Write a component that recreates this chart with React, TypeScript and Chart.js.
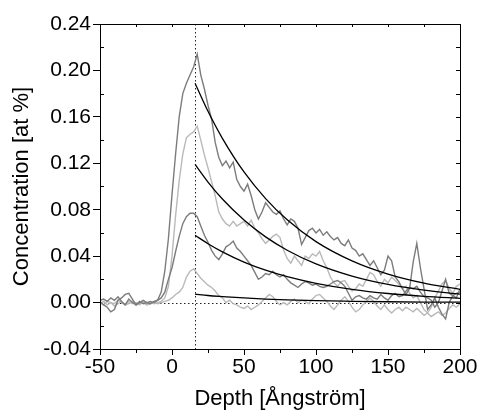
import React, { useEffect, useRef } from "react";
import { Chart, registerables } from "chart.js";

Chart.register(...registerables);

const depth: number[] = [];
for (let i = 0; i <= 100; i++) depth.push(-50 + 2.5 * i);

const seriesA = [
  0.002, 0.003, 0.001, 0.004, 0.002, 0.005, 0.001, -0.002, 0.003, 0.0, -0.002, 0.001, -0.001, 0.0, 0.001, 0.0,
  0.002, 0.009, 0.027, 0.055, 0.093, 0.128, 0.16, 0.18, 0.189, 0.196, 0.203, 0.214, 0.196, 0.184, 0.17, 0.158,
  0.138, 0.125, 0.118, 0.122, 0.116, 0.121, 0.106, 0.1, 0.096, 0.102, 0.092, 0.08, 0.072, 0.078, 0.086, 0.082,
  0.078, 0.076, 0.079, 0.072, 0.067, 0.072, 0.07, 0.064, 0.05, 0.056, 0.062, 0.064, 0.06, 0.063, 0.058, 0.061,
  0.057, 0.054, 0.056, 0.051, 0.049, 0.054, 0.047, 0.045, 0.04, 0.042, 0.037, 0.032, 0.036, 0.03, 0.024, 0.028,
  0.04, 0.036, 0.022, 0.018, 0.012, 0.007, 0.012, 0.035, 0.051, 0.03, 0.012, -0.006, -0.002, 0.004, -0.004, -0.01,
  -0.014, 0.0, 0.006, 0.004, 0.012,
];
const seriesB = [
  0.0, -0.002, 0.001, 0.0, -0.001, 0.002, 0.0, -0.002, 0.001, -0.001, 0.0, -0.002, 0.001, -0.001, 0.0, -0.001,
  0.0, 0.001, 0.004, 0.014, 0.04, 0.075, 0.105, 0.128, 0.142, 0.145, 0.147, 0.152, 0.14, 0.127, 0.116, 0.104,
  0.092, 0.078, 0.072, 0.068, 0.066, 0.07, 0.066, 0.068, 0.07, 0.066, 0.071, 0.064, 0.06, 0.055, 0.051, 0.054,
  0.057, 0.059, 0.056, 0.045, 0.038, 0.034, 0.04, 0.036, 0.032, 0.04, 0.038, 0.042, 0.04, 0.044, 0.036, 0.03,
  0.022, 0.017, 0.014, 0.018, 0.019, 0.014, 0.01, 0.012, 0.016, 0.014, 0.02, 0.026, 0.024, 0.018, 0.014, 0.02,
  0.017, 0.022, 0.019, 0.016, 0.012, 0.014, 0.008, 0.004, 0.006, 0.0, -0.006, -0.009, -0.004, 0.004, 0.01, 0.016,
  0.019, 0.012, 0.008, 0.014, 0.016,
];
const seriesC = [
  0.001, -0.002, -0.004, -0.008, -0.006, 0.002, 0.004, 0.007, 0.008, 0.003, -0.002, 0.0, 0.002, 0.0, -0.001, 0.001,
  0.002, 0.004, 0.009, 0.02, 0.03, 0.044, 0.057, 0.068, 0.074, 0.077, 0.077, 0.074, 0.066, 0.058, 0.052, 0.045,
  0.04, 0.037, 0.042, 0.048, 0.05, 0.053, 0.047, 0.044, 0.04, 0.036, 0.032, 0.026, 0.02, 0.022, 0.025, 0.024,
  0.027, 0.024, 0.022, 0.024, 0.02, 0.017, 0.015, 0.013, 0.016, 0.018, 0.017, 0.015, 0.016, 0.014, 0.013, 0.014,
  0.016, 0.018, 0.019, 0.017, 0.014, 0.008, 0.002, 0.005, 0.006, 0.004, 0.003, 0.006, 0.004, 0.003, 0.007, 0.004,
  0.002, 0.006, 0.008, 0.005, 0.006, 0.01, 0.013, 0.012, 0.014, 0.009, 0.005, 0.004, 0.002, -0.004, 0.0, 0.01,
  0.02, 0.008, 0.006, 0.008, 0.009,
];
const seriesD = [
  -0.001, 0.001, -0.002, 0.0, -0.003, -0.001, 0.001, -0.002, -0.001, 0.001, -0.002, -0.001, 0.0, -0.002, -0.001, 0.0,
  -0.001, 0.0, 0.001, 0.002, 0.004, 0.007, 0.009, 0.013, 0.022, 0.027, 0.029, 0.025, 0.021, 0.018, 0.015, 0.013,
  0.01, 0.006, 0.004, 0.0, 0.002, -0.001, -0.002, -0.004, -0.005, -0.003, -0.006, -0.004, -0.002, 0.001, 0.004, 0.007,
  0.005, 0.001, -0.002, 0.0, -0.002, 0.001, 0.003, 0.0, 0.002, 0.001, -0.001, 0.003, 0.006, 0.007, 0.004, 0.001,
  -0.003, -0.006, -0.002, 0.002, 0.005, 0.001, -0.004, -0.008, -0.006, -0.002, 0.001, 0.004, 0.001, -0.003, -0.006, -0.002,
  -0.006, -0.009, -0.006, -0.004, -0.007, -0.004, -0.006, -0.008, -0.005, -0.008, -0.011, -0.009, -0.012, -0.01, -0.008, -0.011,
  -0.009, -0.005, -0.002, -0.004, -0.001,
];

const fitDepth = [16, 25, 35, 50, 65, 80, 100, 125, 150, 175, 200];
const fit1 = [0.189, 0.1648, 0.1415, 0.1125, 0.0896, 0.0713, 0.0525, 0.0359, 0.0245, 0.0167, 0.0114];
const fit2 = [0.119, 0.1038, 0.0892, 0.0711, 0.0566, 0.0451, 0.0333, 0.0228, 0.0156, 0.0107, 0.0073];
const fit3 = [0.058, 0.0507, 0.0437, 0.0349, 0.0279, 0.0223, 0.0166, 0.0114, 0.0078, 0.0054, 0.0037];
const fit4 = [0.0072, 0.0061, 0.0052, 0.004, 0.003, 0.0023, 0.0016, 0.0011, 0.0007, 0.0004, 0.0003];

const interfaceDepth = 16;
const zeroLevel = 0;

const DARK = "#7c7c7c";
const LIGHT = "#b9b9b9";
const FONT = "'Liberation Sans', Arial, Helvetica, sans-serif";

const toPts = (xs: number[], ys: number[]) => xs.map((x, i) => ({ x, y: ys[i] }));

const framePlugin = {
  id: "frame",
  beforeDatasetsDraw(chart: any) {
    const { ctx, chartArea, scales } = chart;
    const { left, right, top, bottom } = chartArea;
    ctx.save();
    ctx.strokeStyle = "#222";
    ctx.lineWidth = 1;
    ctx.setLineDash([1.5, 2.5]);
    const vx = Math.round(scales.x.getPixelForValue(interfaceDepth)) + 0.5;
    ctx.beginPath();
    ctx.moveTo(vx, top);
    ctx.lineTo(vx, bottom);
    ctx.stroke();
    const hy = Math.round(scales.y.getPixelForValue(zeroLevel)) + 0.5;
    ctx.beginPath();
    ctx.moveTo(left, hy);
    ctx.lineTo(right, hy);
    ctx.stroke();
    ctx.restore();
  },
  afterDraw(chart: any) {
    const { ctx, chartArea, scales } = chart;
    const { left, right, top, bottom } = chartArea;
    const xs = scales.x;
    const ys = scales.y;
    ctx.save();
    ctx.strokeStyle = "#000";
    ctx.lineWidth = 1;
    ctx.setLineDash([]);
    ctx.beginPath();
    ctx.rect(Math.round(left) + 0.5, Math.round(top) + 0.5, Math.round(right - left), Math.round(bottom - top));
    ctx.stroke();
    ctx.beginPath();
    for (let k = 0; k <= 14; k++) {
      const v = -0.04 + 0.02 * k;
      const py = Math.round(ys.getPixelForValue(v)) + 0.5;
      if (k % 2 === 1) {
        ctx.moveTo(left, py);
        ctx.lineTo(left + 4, py);
      }
      ctx.moveTo(right, py);
      ctx.lineTo(right - 4, py);
    }
    for (let k = 0; k <= 10; k++) {
      const v = -50 + 25 * k;
      const px = Math.round(xs.getPixelForValue(v)) + 0.5;
      if (k % 2 === 1) {
        ctx.moveTo(px, bottom);
        ctx.lineTo(px, bottom + 4);
      }
      ctx.moveTo(px, top);
      ctx.lineTo(px, top + 3);
    }
    ctx.stroke();
    ctx.restore();
  },
};

export default function App() {
  const ref = useRef<HTMLCanvasElement | null>(null);
  useEffect(() => {
    if (!ref.current) return;
    const chart = new Chart(ref.current, {
      type: "line",
      data: {
        datasets: [
          { data: toPts(fitDepth, fit1), borderColor: "#000", borderWidth: 1.3, pointRadius: 0, cubicInterpolationMode: "monotone" },
          { data: toPts(fitDepth, fit2), borderColor: "#000", borderWidth: 1.3, pointRadius: 0, cubicInterpolationMode: "monotone" },
          { data: toPts(fitDepth, fit3), borderColor: "#000", borderWidth: 1.3, pointRadius: 0, cubicInterpolationMode: "monotone" },
          { data: toPts(fitDepth, fit4), borderColor: "#000", borderWidth: 1.3, pointRadius: 0, cubicInterpolationMode: "monotone" },
          { data: toPts(depth, seriesA), borderColor: DARK, borderWidth: 1.4, pointRadius: 0, tension: 0 },
          { data: toPts(depth, seriesC), borderColor: DARK, borderWidth: 1.4, pointRadius: 0, tension: 0 },
          { data: toPts(depth, seriesB), borderColor: LIGHT, borderWidth: 1.4, pointRadius: 0, tension: 0 },
          { data: toPts(depth, seriesD), borderColor: LIGHT, borderWidth: 1.4, pointRadius: 0, tension: 0 },
        ] as any,
      },
      options: {
        animation: false,
        responsive: true,
        maintainAspectRatio: false,
        layout: { padding: { top: 24, right: 20, left: 0, bottom: 0 } },
        plugins: { legend: { display: false }, tooltip: { enabled: false } },
        scales: {
          x: {
            type: "linear",
            min: -50,
            max: 200,
            afterFit: (s: any) => { s.height = 67; },
            ticks: { stepSize: 50, color: "#000", font: { family: FONT, size: 21 }, padding: 0, maxRotation: 0, callback: (v: any) => String(Math.round(Number(v))) },
            grid: { display: true, drawOnChartArea: false, drawTicks: true, tickLength: 6, color: "#000" },
            border: { display: true, color: "#000" },
            title: { display: true, text: "Depth [Ångström]", color: "#000", font: { family: FONT, size: 22 }, padding: { top: 0, bottom: 4 } },
          },
          y: {
            type: "linear",
            min: -0.04,
            max: 0.24,
            afterFit: (s: any) => { s.width = 100; },
            ticks: {
              stepSize: 0.04,
              color: "#000",
              font: { family: FONT, size: 21 },
              padding: 2,
              callback: (v: any) => {
                const n = Math.round(Number(v) * 100) / 100;
                return (Math.abs(n) < 1e-9 ? 0 : n).toFixed(2);
              },
            },
            grid: { display: true, drawOnChartArea: false, drawTicks: true, tickLength: 7, color: "#000" },
            border: { display: true, color: "#000" },
            title: { display: true, text: "Concentration [at %]", color: "#000", font: { family: FONT, size: 22 }, padding: { top: 9, bottom: 0 } },
          },
        },
      },
      plugins: [framePlugin],
    });
    return () => chart.destroy();
  }, []);
  return (
    <div style={{ position: "fixed", left: 0, top: 0, width: 480, height: 416, background: "#fff" }}>
      <canvas ref={ref} />
    </div>
  );
}
